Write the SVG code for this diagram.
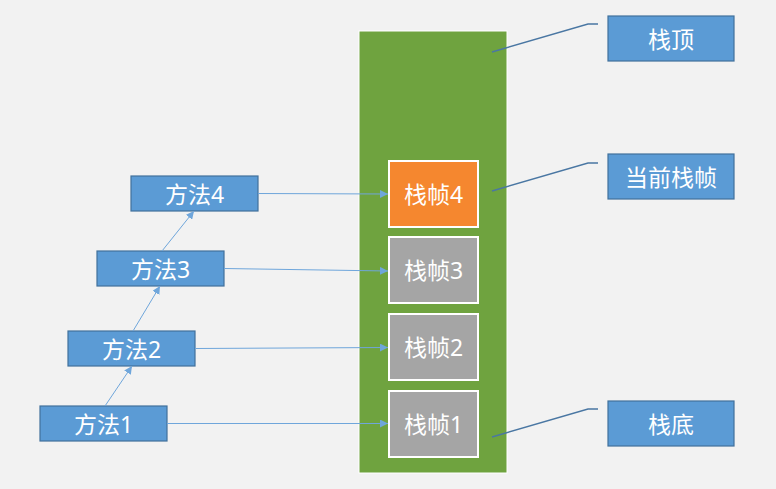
<svg xmlns="http://www.w3.org/2000/svg" width="776" height="489" viewBox="0 0 776 489">
<defs>
<style>
.lbl{font-family:"Noto Sans","Noto Sans CJK SC",sans-serif;font-size:23px;fill:#fff;text-anchor:middle;dominant-baseline:central}
.blue{fill:#5B9BD5;stroke:#41719C;stroke-width:1.2}
.frame{stroke:#fff;stroke-width:2}
.conn{stroke:#6FA6DB;stroke-width:1;fill:none}
.lead{stroke:#4A77A3;stroke-width:1.5;fill:none}
</style>
<marker id="ah" viewBox="0 0 10 10" refX="10" refY="5" markerWidth="8" markerHeight="8" markerUnits="userSpaceOnUse" orient="auto">
<path d="M0,0L10,5L0,10z" fill="#6FA6DB"/>
</marker>
</defs>
<rect width="776" height="489" fill="#F2F2F2"/>
<g id="stack">
<rect x="359" y="31" width="148" height="442" fill="#6FA33F" stroke="#fff" stroke-width="1"/>
</g>
<g id="frame4"><rect class="frame" x="389" y="161" width="89" height="66" fill="#F5872F"/><text class="lbl" x="433.5" y="194">栈帧4</text></g>
<g id="frame3"><rect class="frame" x="389" y="237" width="89" height="66" fill="#A5A5A5"/><text class="lbl" x="433.5" y="270">栈帧3</text></g>
<g id="frame2"><rect class="frame" x="389" y="314" width="89" height="66" fill="#A5A5A5"/><text class="lbl" x="433.5" y="347">栈帧2</text></g>
<g id="frame1"><rect class="frame" x="389" y="391" width="89" height="66" fill="#A5A5A5"/><text class="lbl" x="433.5" y="424">栈帧1</text></g>
<g id="m4"><rect class="blue" x="131" y="176" width="127" height="35"/><text class="lbl" x="194.5" y="193.5">方法4</text></g>
<g id="m3"><rect class="blue" x="97" y="251" width="127" height="35"/><text class="lbl" x="160.5" y="268.5">方法3</text></g>
<g id="m2"><rect class="blue" x="68" y="331" width="127" height="35"/><text class="lbl" x="131.5" y="348.5">方法2</text></g>
<g id="m1"><rect class="blue" x="40" y="406" width="127" height="35"/><text class="lbl" x="103.5" y="423.5">方法1</text></g>
<g id="top"><rect class="blue" x="608" y="16" width="126" height="45"/><text class="lbl" x="671" y="38.5">栈顶</text></g>
<g id="cur"><rect class="blue" x="608" y="154" width="126" height="45"/><text class="lbl" x="671" y="176.5">当前栈帧</text></g>
<g id="bottom"><rect class="blue" x="608" y="401" width="126" height="45"/><text class="lbl" x="671" y="423.5">栈底</text></g>
<g id="connectors">
<line class="conn" x1="105" y1="406" x2="132" y2="366" marker-end="url(#ah)"/>
<line class="conn" x1="133" y1="331" x2="160" y2="286" marker-end="url(#ah)"/>
<line class="conn" x1="162" y1="251" x2="194" y2="211" marker-end="url(#ah)"/>
<line class="conn" x1="258" y1="193.5" x2="388" y2="194" marker-end="url(#ah)"/>
<line class="conn" x1="224" y1="268.5" x2="388" y2="271" marker-end="url(#ah)"/>
<line class="conn" x1="195" y1="348.5" x2="388" y2="347.5" marker-end="url(#ah)"/>
<line class="conn" x1="167" y1="423.5" x2="388" y2="423.5" marker-end="url(#ah)"/>
<polyline class="lead" points="492,52 588,24 598,24"/>
<polyline class="lead" points="492,191 588,163 598,163"/>
<polyline class="lead" points="492,437 588,409 598,409"/>
</g>
</svg>
